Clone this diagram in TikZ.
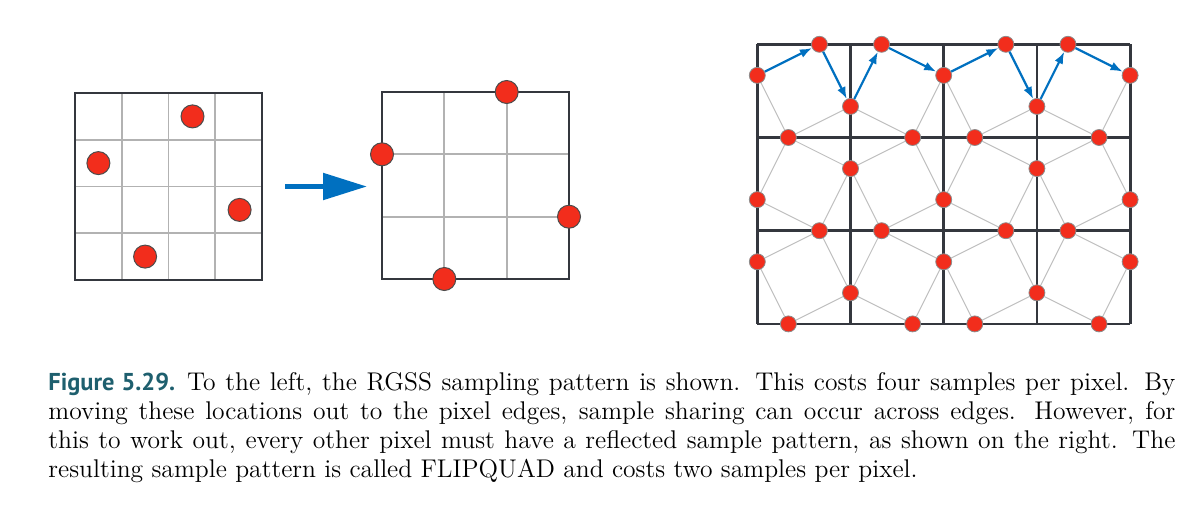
\documentclass[tikz,border=0pt]{standalone}
\usepackage{fontspec}
\newfontfamily\figlabelfont{PT Sans}
\usetikzlibrary{arrows.meta}

\definecolor{griddark}{RGB}{52,55,62}
\definecolor{dotred}{RGB}{242,45,28}
\definecolor{arrowblue}{RGB}{0,112,192}
\definecolor{figteal}{RGB}{30,95,110}

\tikzset{
  pixelbox/.style={draw=griddark, line width=1.4pt},
  subline/.style={draw=black!30, line width=0.9pt},
  bigdot/.style={circle, fill=dotred, draw=black!70, line width=0.5pt, inner sep=0pt, minimum size=11.5pt},
  smalldot/.style={circle, fill=dotred, draw=black!45, line width=0.4pt, inner sep=0pt, minimum size=8pt},
  shareline/.style={draw=black!25, line width=0.5pt},
  flow/.style={-{Latex[length=6pt,width=4.5pt]}, arrowblue, line width=1.1pt},
  bigarrow/.style={-{Triangle[length=22pt,width=13pt]}, arrowblue, line width=2.6pt}
}

\begin{document}
\begin{tikzpicture}[x=0.5pt, y=-0.5pt]
    \useasboundingbox (0,0) rectangle (1203,504);

    % RGSS pixel, 4x4 sub-grid
    \foreach \k in {1,2,3} {
        \draw[subline] ({75+\k*46.75},93) -- ({75+\k*46.75},280);
        \draw[subline] (75,{93+\k*46.75}) -- (262,{93+\k*46.75});
    }
    \draw[pixelbox] (75,93) rectangle (262,280);
    \node[bigdot] (rgss-a) at (192.5,116.4) {};
    \node[bigdot] (rgss-b) at (98.4,163.1) {};
    \node[bigdot] (rgss-c) at (239.6,209.9) {};
    \node[bigdot] (rgss-d) at (145.1,256.6) {};

    % move samples out to the edges
    \coordinate (shift-tail) at (285,186.5);
    \coordinate (shift-tip) at (367,186.5);
    \draw[bigarrow] (shift-tail) -- (shift-tip);

    % edge samples, 3x3 sub-grid
    \foreach \k in {1,2} {
        \draw[subline] ({382+\k*62.33},92) -- ({382+\k*62.33},279);
        \draw[subline] (382,{92+\k*62.33}) -- (569,{92+\k*62.33});
    }
    \draw[pixelbox] (382,92) rectangle (569,279);
    \node[bigdot] (edge-top) at (506.7,92) {};
    \node[bigdot] (edge-left) at (382,154.3) {};
    \node[bigdot] (edge-right) at (569,216.7) {};
    \node[bigdot] (edge-bottom) at (444.3,279) {};

    % FLIPQUAD, 4x3 pixels
    \begin{scope}[shift={(757.3,44.3)}]
        \foreach \c in {0,...,4}
            \draw[pixelbox] ({\c*93.2},0) -- ({\c*93.2},279.6);
        \foreach \r in {0,...,3}
            \draw[pixelbox] (0,{\r*93.2}) -- (372.8,{\r*93.2});

        % samples on horizontal edges
        \foreach \i in {0,...,3}
            \foreach \r in {0,...,3} {
                \pgfmathsetmacro\off{isodd(\i+\r) ? 1/3 : 2/3}
                \node[smalldot] (h-\i-\r) at ({(\i+\off)*93.2},{\r*93.2}) {};
            }
        % samples on vertical edges
        \foreach \c in {0,...,4}
            \foreach \j in {0,...,2} {
                \pgfmathsetmacro\off{isodd(\c+\j) ? 2/3 : 1/3}
                \node[smalldot] (v-\c-\j) at ({\c*93.2},{(\j+\off)*93.2}) {};
            }
    \end{scope}

    % one quad per pixel
    \foreach \i in {0,...,3}
        \foreach \j in {0,...,2} {
            \pgfmathtruncatemacro\ni{\i+1}
            \pgfmathtruncatemacro\nj{\j+1}
            \draw[shareline] (v-\i-\j) -- (h-\i-\nj);
            \draw[shareline] (h-\i-\nj) -- (v-\ni-\j);
            \ifnum\j>0
                \draw[shareline] (h-\i-\j) -- (v-\i-\j);
                \draw[shareline] (v-\ni-\j) -- (h-\i-\j);
            \fi
        }

    % sharing along the top row
    \foreach \i in {0,...,3} {
        \pgfmathtruncatemacro\ni{\i+1}
        \draw[flow] (v-\i-0) -- (h-\i-0);
        \draw[flow] (h-\i-0) -- (v-\ni-0);
    }

    % caption
    \node[anchor=north west, inner sep=0pt, text width=563.5pt, align=justify,
          font=\fontsize{12.8}{14.5}\selectfont] (caption) at (48,372) {%
        \noindent{\figlabelfont\fontsize{12.2}{14.5}\selectfont\bfseries\color{figteal}Figure 5.29.}\hspace{6pt}To the left, the RGSS sampling pattern is shown. This costs four samples per pixel. By\linebreak
        moving these locations out to the pixel edges, sample sharing can occur across edges. However, for\linebreak
        this to work out, every other pixel must have a reflected sample pattern, as shown on the right. The\linebreak
        resulting sample pattern is called FLIPQUAD and costs two samples per pixel.};
\end{tikzpicture}
\end{document}
